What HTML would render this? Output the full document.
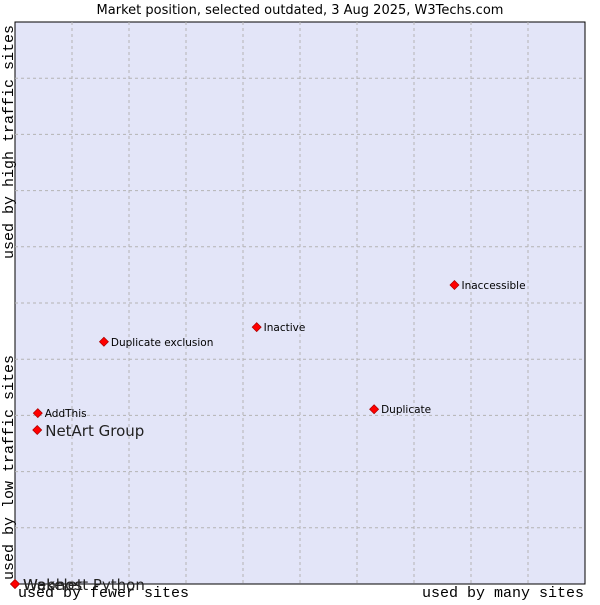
<!DOCTYPE html>
<html><head><meta charset="utf-8"><style>
body{margin:0;background:#fff;width:600px;height:600px;overflow:hidden}
</style></head><body>
<svg id="chart" width="600" height="600" xmlns="http://www.w3.org/2000/svg" font-family="DejaVu Sans, Liberation Sans, sans-serif">
<text x="300" y="14" font-size="13" text-anchor="middle" fill="#000">Market position, selected outdated, 3 Aug 2025, W3Techs.com</text>
<rect x="15" y="22" width="570" height="562" fill="#e3e5f8" stroke="#000" stroke-width="1"/>
<g id="grid"></g>
<text x="18" y="597" font-size="15" font-family="Liberation Mono, DejaVu Sans Mono, monospace">used by fewer sites</text>
<text x="584" y="597" font-size="15" text-anchor="end" font-family="Liberation Mono, DejaVu Sans Mono, monospace">used by many sites</text>
<text transform="translate(13,25) rotate(-90)" font-size="15" text-anchor="end" font-family="Liberation Mono, DejaVu Sans Mono, monospace">used by high traffic sites</text>
<text transform="translate(13,580) rotate(-90)" font-size="15" font-family="Liberation Mono, DejaVu Sans Mono, monospace">used by low traffic sites</text>
<g id="points"></g>
</svg>
<script>
const names = ["AddThis","NetArt Group","Duplicate exclusion","Inactive","Inaccessible","Duplicate","Wakelet","Webhost Python"];
const xValues = [4.0,3.9,15.6,42.4,77.1,63.0,0,0];
const yValues = [30.4,27.4,43.1,45.7,53.2,31.1,0,0];
const bigLabel = [false,true,false,false,false,false,true,true];
const L=15,T=22,W=570,H=562;
const xs=v=>L+v/100*W, ys=v=>T+H-v/100*H;
const ns="http://www.w3.org/2000/svg";
const grid=document.getElementById('grid');
for(let i=1;i<10;i++){
  const a=document.createElementNS(ns,'line');
  
  
  const x=xs(i*10);
  a.setAttribute('x1',x);a.setAttribute('x2',x);a.setAttribute('y1',T);a.setAttribute('y2',T+H);
  a.setAttribute('stroke','#b4b4b4');a.setAttribute('stroke-dasharray','3,3');
  grid.appendChild(a);
  const b=document.createElementNS(ns,'line');
  
  
  const y=ys(i*10);
  b.setAttribute('x1',L);b.setAttribute('x2',L+W);b.setAttribute('y1',y);b.setAttribute('y2',y);
  b.setAttribute('stroke','#b4b4b4');b.setAttribute('stroke-dasharray','3,3');
  grid.appendChild(b);
}
const pts=document.getElementById('points');
names.forEach((n,i)=>{
  const x=xs(xValues[i]),y=ys(yValues[i]);
  const p=document.createElementNS(ns,'path');
  
  
  p.setAttribute('d',`M${x} ${y-4.5}L${x+4.5} ${y}L${x} ${y+4.5}L${x-4.5} ${y}Z`);
  p.setAttribute('fill','#f00');p.setAttribute('stroke','#a00');p.setAttribute('stroke-width','0.7');
  pts.appendChild(p);
  const t=document.createElementNS(ns,'text');
  
  
  t.setAttribute('x',x+(bigLabel[i]?8:7));
  t.setAttribute('y',y+(bigLabel[i]?6:4));
  t.setAttribute('font-size',bigLabel[i]?'15':'10.5');
  t.setAttribute('fill',bigLabel[i]?'#222':'#000');
  t.textContent=n;
  pts.appendChild(t);
});
</script>
</body></html>
